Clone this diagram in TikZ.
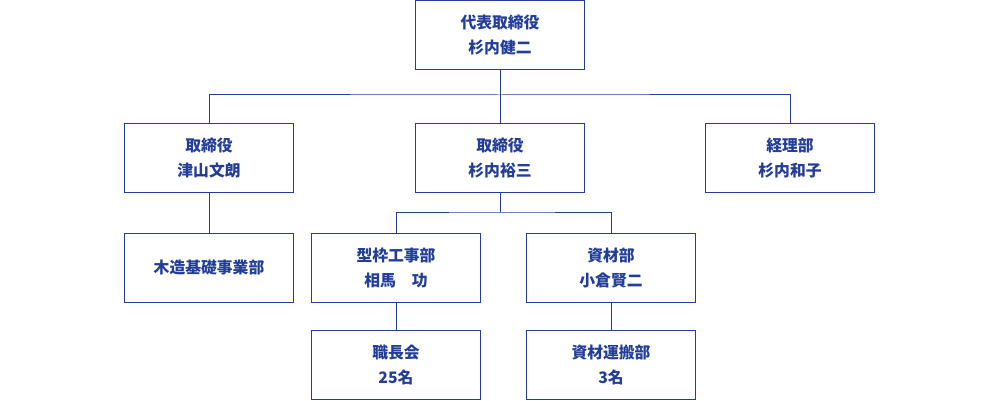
\documentclass[tikz,border=0pt]{standalone}
\usepackage{fontspec}
\newfontfamily\jpfont{Noto Sans CJK JP}
\definecolor{orgblue}{RGB}{35,62,152}
\begin{document}
\begin{tikzpicture}[x=1pt,y=-1pt,
  post/.style={draw=orgblue,line width=1pt,minimum width=169pt,minimum height=69pt,
    inner sep=0pt,align=center,text=orgblue,
    font=\jpfont\bfseries\fontsize{15.8pt}{25pt}\selectfont},
  link/.style={draw=orgblue,line width=1pt}]
\fill [color=white] (0, 0) rectangle (1000, 401);

% boxes
\node[post] (ceo) at (500, 35) {代表取締役\\杉内健二};
\node[post] (dirtsu) at (209, 158) {取締役\\津山文朗};
\node[post] (dirsugi) at (500, 158) {取締役\\杉内裕三};
\node[post] (acct) at (790, 158) {経理部\\杉内和子};
\node[post] (wood) at (209, 268) {木造基礎事業部};
\node[post] (form) at (396, 268) {型枠工事部\\相馬　功};
\node[post] (mat) at (611, 268) {資材部\\小倉賢二};
\node[post] (crew) at (396, 365) {職長会\\25名};
\node[post] (haul) at (611, 365) {資材運搬部\\3名};

% lines
\coordinate (bustop) at (500, 95);
\coordinate (busmid) at (500, 212);
\draw[link] (ceo.south) -- (dirsugi.north);
\draw[link] (dirtsu.north) |- (bustop) -| (acct.north);
\draw[link] (dirsugi.south) -- (busmid);
\draw[link] (form.north) |- (busmid) -| (mat.north);
\draw[link] (dirtsu.south) -- (wood.north);
\draw[link] (form.south) -- (crew.north);
\draw[link] (mat.south) -- (haul.north);
\end{tikzpicture}
\end{document}
